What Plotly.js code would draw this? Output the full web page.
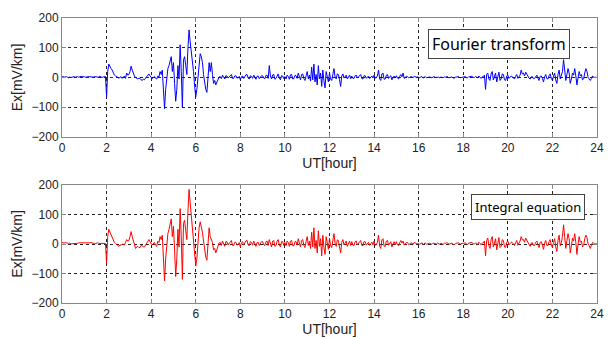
<!DOCTYPE html>
<html><head><meta charset="utf-8">
<script src="https://cdn.plot.ly/plotly-3.0.1.min.js"></script>
<style>html,body{margin:0;padding:0;background:#fff}</style>
</head><body><div id="chart" style="width:612px;height:338px"></div>
<script>
// Samples every 0.05 hour starting at 0 h (UT)
var startHour = 0;
var stepHour = 0.05;
var xTickVals = [0,2,4,6,8,10,12,14,16,18,20,22,24];
var yTickVals = [-200,-100,0,100,200];

var fourierEx = [
 2,3,1,2,3,1,-1,2,0,1,2,3,1,2,3,1,2,4,2,3,
 3,1,2,2,4,3,2,1,1,3,3,2,2,1,4,2,0,2,2,3,
 -65,20,45,35,30,25,15,8,5,3,2,-2,0,3,-3,2,5,-3,15,8,
 10,20,38,25,12,5,0,-3,-5,-2,-3,-8,-10,-5,-8,-2,2,8,12,5,
 2,-3,0,3,-3,-5,5,2,20,10,25,-30,-105,-40,10,30,40,55,70,20,
 50,-20,-80,-40,40,-5,110,20,-100,60,70,40,10,100,160,120,90,50,20,-30,
 -65,-40,10,60,80,70,50,10,-20,-40,-50,0,50,20,50,10,-20,-10,-25,-15,
 -5,2,3,-4,8,2,-5,6,5,-2,2,8,10,-3,-3,5,6,-1,-2,4,
 -8,3,5,-3,3,9,10,-2,-5,6,4,-3,8,2,-6,4,5,-4,0,6,
 6,-2,-4,7,8,-3,40,5,-5,9,10,-6,-3,8,12,-2,-8,6,5,-4,
 3,-5,8,4,-6,9,10,-5,-4,7,6,-3,15,2,-8,10,12,-4,-10,6,
 20,-5,8,-12,35,-8,45,-15,10,-25,40,-5,15,-30,25,-10,-35,20,5,-15,
 15,-5,-10,8,30,2,-5,12,10,-8,-30,5,12,-2,5,8,-5,3,8,-4,
 5,-3,-3,6,8,-2,2,7,10,-4,-5,6,6,-3,3,5,-4,2,5,-2,
 8,-3,0,5,25,-5,-10,12,15,-6,-5,8,10,-3,3,6,-8,2,5,-2,
 6,-2,-5,4,10,2,15,-3,2,4,3,-1,0,3,2,-1,4,2,1,2,
 1,-1,2,3,-2,1,3,-1,0,2,2,0,-1,2,3,0,0,2,1,-1,
 2,0,-1,2,1,3,3,-1,0,2,2,-2,-2,1,1,3,3,-1,0,1,
 1,2,3,-1,-1,3,2,4,4,0,0,3,2,-2,5,1,-3,2,3,8,
 -40,10,15,-5,-10,12,20,-8,5,15,-15,3,18,-10,-5,12,10,-8,-10,5,
 8,-3,0,5,3,-2,-5,4,10,-3,2,8,25,12,15,5,18,10,5,-2,
 -5,2,3,-4,-3,5,8,-2,-10,4,5,-3,-15,2,10,-4,-5,6,12,-3,
 -10,5,15,-8,-20,10,25,-5,5,20,60,20,-10,10,30,15,-20,-5,15,8,
 30,5,-25,0,20,5,10,-8,-5,15,30,20,0,-5,-10,-3,5,2,0,1,
 0
];

var integralEx = [
 5,4,3,5,4,2,2,3,0,1,1,3,3,2,2,4,4,3,3,2,
 4,2,2,3,3,4,5,3,3,1,1,4,4,2,2,1,1,3,3,2,
 -65,25,50,40,35,25,12,5,2,-3,-5,-8,-3,-5,0,-2,-3,5,15,10,
 12,25,42,25,10,-5,-15,-10,-8,-12,-12,-5,-5,-10,-10,-3,5,10,15,8,
 0,-2,2,5,-5,-8,10,5,25,15,30,-30,-125,-50,5,35,50,65,85,25,
 60,-20,-110,-50,50,-10,120,25,-120,70,80,45,15,110,185,140,95,55,25,-35,
 -75,-50,10,55,75,60,40,10,-20,-45,-55,0,55,25,15,5,-20,-15,-30,-20,
 -5,4,5,-5,10,3,-8,8,8,-3,2,10,12,-5,-5,6,5,-2,-3,5,
 -10,4,8,-4,4,10,12,-3,-6,8,5,-4,10,2,-8,5,6,-5,0,8,
 8,-3,-5,8,10,-5,15,5,-10,10,12,-8,-5,10,15,-3,-10,8,8,-5,
 5,-6,10,5,-8,10,12,-6,-6,8,8,-4,18,3,-10,12,15,-5,-12,8,
 25,-5,10,-15,40,-10,55,-15,12,-30,45,-8,18,-40,30,-12,-35,25,8,-18,
 20,-6,-12,10,35,3,-8,14,12,-10,-30,6,15,-3,5,10,-8,4,10,-5,
 8,-4,-5,8,10,-3,2,9,12,-5,-6,8,8,-4,3,6,-5,3,6,-3,
 10,-4,-2,6,30,-8,-15,14,18,-8,-8,10,12,-4,5,8,-10,3,8,-3,
 8,-3,-6,5,12,3,10,-4,3,5,5,-2,0,4,3,-1,5,3,2,2,
 2,-1,3,4,-2,2,4,-1,0,3,3,0,-1,3,2,0,0,3,2,-1,
 3,0,-2,3,2,4,4,-1,0,3,3,-2,-2,2,2,4,4,-1,1,2,
 2,3,4,-1,-2,4,3,5,5,0,0,4,3,-2,6,2,-3,3,4,10,
 -40,12,20,-5,-15,15,25,-10,5,18,-20,4,22,-12,-8,15,12,-10,-12,6,
 10,-3,0,6,5,-2,-5,5,12,-4,2,10,25,14,15,6,20,12,5,-3,
 -8,3,5,-5,-5,6,10,-3,-12,5,8,-4,-18,3,12,-5,-5,8,15,-4,
 -12,6,18,-10,-25,12,30,-6,5,25,65,25,-15,12,35,18,-30,-8,20,10,
 35,5,-35,0,25,6,10,-10,-5,18,30,22,0,-6,-15,-4,5,3,0,1,
 0
];

var labelTop = 'Fourier transform';
var labelBottom = 'Integral equation';

var font = {family:'Liberation Sans, Arial, sans-serif', size:12, color:'#222'};
var titleFont = {family:'Liberation Sans, Arial, sans-serif', size:14, color:'#222'};

function xa(anchor){
  return {domain:[0,1], anchor:anchor, range:[0,24], tickvals:xTickVals,
    showgrid:true, gridcolor:'#222', griddash:'dot', gridwidth:1,
    zeroline:false, showline:true, mirror:'ticks', linecolor:'#888', linewidth:1,
    ticks:'inside', ticklen:4, tickcolor:'#888',
    tickfont:font, title:{text:'UT[hour]', font:titleFont, standoff:3}};
}
function ya(anchor, dom){
  return {domain:dom, anchor:anchor, range:[-200,200], tickvals:yTickVals,
    showgrid:true, gridcolor:'#222', griddash:'dot', gridwidth:1,
    zeroline:false, showline:true, mirror:'ticks', linecolor:'#888', linewidth:1,
    ticks:'inside', ticklen:4, tickcolor:'#888',
    tickfont:font, title:{text:'Ex[mV/km]', font:titleFont, standoff:5}};
}

var data = [
 {type:'scatter', mode:'lines', x0:startHour, dx:stepHour, y:fourierEx,
  line:{color:'#0000ff', width:1}, xaxis:'x', yaxis:'y', showlegend:false},
 {type:'scatter', mode:'lines', x0:startHour, dx:stepHour, y:integralEx,
  line:{color:'#ff0000', width:1}, xaxis:'x2', yaxis:'y2', showlegend:false}
];

var layout = {
  width:612, height:338,
  margin:{l:62, r:15, t:18, b:35},
  paper_bgcolor:'#fff', plot_bgcolor:'#fff',
  font:font,
  xaxis: xa('y'),
  yaxis: ya('x', [0.5825,1]),
  xaxis2: xa('y2'),
  yaxis2: ya('x2', [0,0.414]),
  annotations:[
    {xref:'x', yref:'y', x:19.6, y:111, text:labelTop, showarrow:false,
     font:{family:'Noto Sans, Open Sans, sans-serif', size:16, color:'#000'},
     bgcolor:'#fff', bordercolor:'#444', borderwidth:1, borderpad:3},
    {xref:'x2', yref:'y2', x:20.9, y:124, text:labelBottom, showarrow:false,
     font:{family:'Noto Sans, Open Sans, sans-serif', size:13, color:'#000'},
     bgcolor:'#fff', bordercolor:'#444', borderwidth:1, borderpad:3}
  ]
};

Plotly.newPlot('chart', data, layout, {staticPlot:true, displayModeBar:false});
</script></body></html>
